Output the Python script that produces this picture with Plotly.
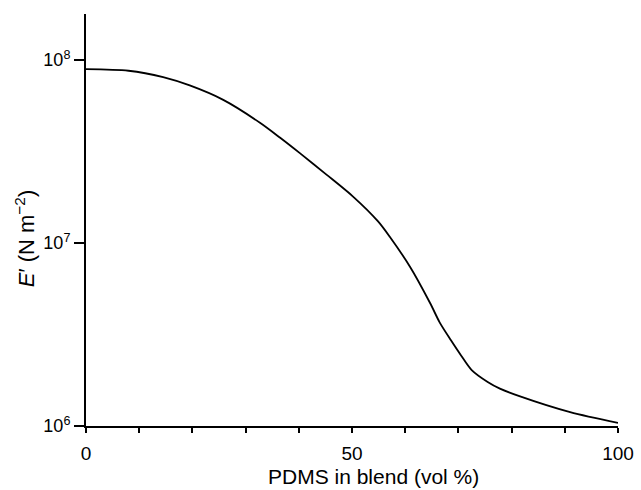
import plotly.graph_objects as go

# PDMS content of the blend (vol %) and storage modulus E' (N m^-2)
pdms_vol = [0, 8.0, 14.5, 19.5, 25.8, 32.7, 36.5, 40.2, 45.2, 50.2, 54.9, 57.1,
            60.9, 64.7, 66.5, 68.6, 70.5, 72.5, 75.5, 77.8, 81.6, 91.0, 100]
modulus = [8.89e7, 8.71e7, 8.04e7, 7.24e7, 6.04e7, 4.53e7, 3.75e7, 3.09e7, 2.36e7,
           1.79e7, 1.31e7, 1.08e7, 7.41e6, 4.68e6, 3.67e6, 2.94e6, 2.43e6, 2.02e6,
           1.74e6, 1.60e6, 1.45e6, 1.19e6, 1.04e6]

x_tick_vals = [0, 50, 100]
x_tick_text = ["0", "50", "100"]
y_tick_vals = [1e6, 1e7, 1e8]
y_tick_text = ["10<sup>6</sup>", "10<sup>7</sup>", "10<sup>8</sup>"]

x_title = "PDMS in blend (vol %)"
y_title = "<i>E</i>′ (N m<sup>−2</sup>)"

font_family = "Liberation Sans, Arial, sans-serif"

fig = go.Figure(
    go.Scatter(
        x=pdms_vol,
        y=modulus,
        mode="lines",
        line=dict(color="black", width=1.8, shape="spline", smoothing=0.8),
        hoverinfo="skip",
    )
)

fig.update_layout(
    width=641,
    height=490,
    margin=dict(l=86, r=23, t=14, b=64),
    paper_bgcolor="white",
    plot_bgcolor="white",
    showlegend=False,
    font=dict(family=font_family, size=19, color="black"),
)

fig.update_xaxes(
    range=[0, 100],
    automargin=False,
    tickmode="array",
    tickvals=x_tick_vals,
    ticktext=x_tick_text,
    ticks="outside",
    ticklen=5,
    tickwidth=1.5,
    tickcolor="black",
    minor=dict(dtick=10, tick0=0, ticks="outside", ticklen=5, tickwidth=1.5,
               tickcolor="black", showgrid=False),
    showline=True,
    linecolor="black",
    linewidth=2,
    showgrid=False,
    zeroline=False,
    tickfont=dict(size=19),
    ticklabelstandoff=4,
)

fig.update_yaxes(
    type="log",
    range=[6, 8.25],
    automargin=False,
    tickmode="array",
    tickvals=y_tick_vals,
    ticktext=y_tick_text,
    ticks="outside",
    ticklen=10,
    tickwidth=1.5,
    tickcolor="black",
    showline=True,
    linecolor="black",
    linewidth=2,
    showgrid=False,
    zeroline=False,
    tickfont=dict(size=18),
)

# Axis titles, placed as annotations so they sit slightly off-centre
fig.add_annotation(
    text=x_title,
    xref="x", yref="paper",
    x=54, y=0, yshift=-50,
    xanchor="center", yanchor="middle",
    showarrow=False,
    borderpad=0,
    font=dict(size=21),
)
fig.add_annotation(
    text=y_title,
    xref="paper", yref="y",
    x=0, xshift=-61, y=7.02,
    xanchor="center", yanchor="middle",
    textangle=-90,
    showarrow=False,
    borderpad=0,
    font=dict(size=22),
)

fig.write_html("out.html")
